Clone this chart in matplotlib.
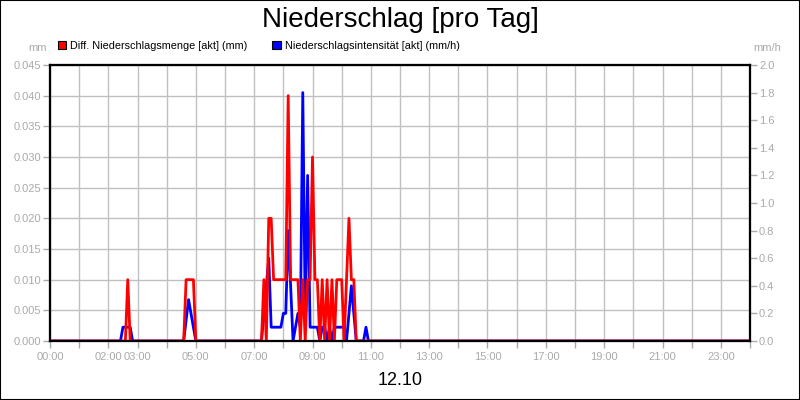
import numpy as np
import matplotlib
matplotlib.use('Agg')
import matplotlib.pyplot as plt
from matplotlib.patches import Patch, Rectangle

plt.rcParams['font.family'] = ['Liberation Sans', 'DejaVu Sans']

# 5-minute readings, 02:20 .. 11:00 (all other readings of the day are 0)
first_time = "02:20"
step_min = 5
red_mm = [
    0, 0, 0, 0, 0.01, 0, 0, 0, 0, 0,                      # 02:20
    0, 0, 0, 0, 0, 0, 0, 0, 0, 0,                         # 03:10
    0, 0, 0, 0, 0, 0, 0, 0, 0.01, 0.01,                   # 04:00
    0.01, 0.01, 0, 0, 0, 0, 0, 0, 0, 0,                   # 04:50
    0, 0, 0, 0, 0, 0, 0, 0, 0, 0,                         # 05:40
    0, 0, 0, 0, 0, 0, 0, 0, 0, 0,                         # 06:30
    0.01, 0, 0.02, 0.02, 0.01, 0.01, 0.01, 0.01, 0.01, 0.01,  # 07:20
    0.04, 0.01, 0.01, 0.01, 0.01, 0, 0.01, 0, 0.01, 0.01,     # 08:10
    0.03, 0.01, 0.01, 0, 0.01, 0, 0.01, 0, 0.01, 0,           # 09:00
    0.01, 0.01, 0.01, 0, 0.01, 0.02, 0.01, 0.01, 0, 0,        # 09:50
    0, 0, 0, 0, 0,                                            # 10:40
]
blue_mmh = [
    0, 0, 0.1, 0.1, 0.1, 0.1, 0, 0, 0, 0,
    0, 0, 0, 0, 0, 0, 0, 0, 0, 0,
    0, 0, 0, 0, 0, 0, 0, 0, 0.15, 0.3,
    0.2, 0.1, 0, 0, 0, 0, 0, 0, 0, 0,
    0, 0, 0, 0, 0, 0, 0, 0, 0, 0,
    0, 0, 0, 0, 0, 0, 0, 0, 0, 0,
    0.2, 0.4, 0.6, 0.1, 0.1, 0.1, 0.1, 0.1, 0.2, 0.2,
    0.8, 0.4, 0, 0.1, 0.2, 0.1, 1.8, 0.2, 1.2, 0.1,
    0.1, 0.1, 0.1, 0, 0.1, 0.1, 0, 0.1, 0, 0.1,
    0.1, 0.1, 0.1, 0.1, 0, 0.2, 0.4, 0.2, 0, 0,
    0, 0, 0.1, 0, 0,
]

hour_ticks = list(range(25))
hour_labels = ['00:00', '', '02:00', '03:00', '', '05:00', '', '07:00', '', '09:00', '',
               '11:00', '', '13:00', '', '15:00', '', '17:00', '', '19:00', '', '21:00',
               '', '23:00', '']
left_ticks = [0.000, 0.005, 0.010, 0.015, 0.020, 0.025, 0.030, 0.035, 0.040, 0.045]
right_ticks = [0.0, 0.2, 0.4, 0.6, 0.8, 1.0, 1.2, 1.4, 1.6, 1.8, 2.0]

# full day on a 5 minute grid
n_day = 24 * 60 // step_min
hours = np.arange(n_day) * step_min / 60
h0, m0 = map(int, first_time.split(':'))
i0 = (h0 * 60 + m0) // step_min
red_day = np.zeros(n_day)
blue_day = np.zeros(n_day)
red_day[i0:i0 + len(red_mm)] = red_mm
blue_day[i0:i0 + len(blue_mmh)] = blue_mmh

gray = '#aaaaaa'
fig = plt.figure(figsize=(8, 4), dpi=100)
fig.patch.set_facecolor('white')
fig.patches.append(Rectangle((0, 0), 1, 1, transform=fig.transFigure, fill=False,
                             edgecolor='black', linewidth=1.5))

ax = fig.add_axes([0.0625, 0.1475, 0.875, 0.69])
ax2 = ax.twinx()
ax3 = ax.twinx()

# left axis: grid and ticks
ax.set_xlim(0, 24)
ax.set_ylim(0, 0.045)
ax.set_xticks(hour_ticks)
ax.set_xticklabels(hour_labels)
ax.set_yticks(left_ticks)
ax.set_yticklabels([f'{v:.3f}' for v in left_ticks])
ax.grid(True, color='#c0c0c0', linewidth=1)
ax.tick_params(axis='both', colors=gray, labelcolor=gray, labelsize=8, length=5, width=1, pad=1.5)
ax.tick_params(axis='x', pad=3)

# right axis: intensity
ax2.set_ylim(0, 2.0)
ax2.set_yticks(right_ticks)
ax2.set_yticklabels([f'{v:.1f}' for v in right_ticks])
ax2.tick_params(axis='y', colors=gray, labelcolor=gray, labelsize=8, length=5, width=1, pad=1.5)
ax2.plot(hours, blue_day, color='#0000ff', linewidth=2)

# red on top, sharing left scale
ax3.set_ylim(0, 0.045)
ax3.set_yticks([])
ax3.plot(hours, red_day, color='#ff0000', linewidth=2)

for a in (ax, ax2, ax3):
    for s in a.spines.values():
        s.set_color('black')
        s.set_linewidth(1.5)

fig.text(0.5, 0.95, 'Niederschlag [pro Tag]', ha='center', va='center', fontsize=20)
fig.text(0.059, 0.88, 'mm', ha='right', va='center', fontsize=8, color=gray)
fig.text(0.941, 0.88, 'mm/h', ha='left', va='center', fontsize=8, color=gray)
fig.text(0.5, 0.048, '12.10', ha='center', va='center', fontsize=13)

handles = [Patch(facecolor='#ff0000', edgecolor='black', linewidth=0.8),
           Patch(facecolor='#0000ff', edgecolor='black', linewidth=0.8)]
fig.legend(handles, ['Diff. Niederschlagsmenge [akt] (mm)', 'Niederschlagsintensität [akt] (mm/h)'],
           loc='center left', bbox_to_anchor=(0.072, 0.886), ncol=2, frameon=False,
           fontsize=7.8, handlelength=0.8, handleheight=0.8, handletextpad=0.35,
           columnspacing=2.3, borderpad=0, borderaxespad=0)

fig.savefig('out.png', dpi=100)
